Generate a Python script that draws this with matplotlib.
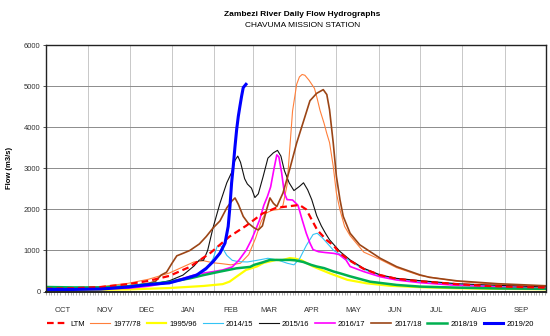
import numpy as np
import matplotlib
matplotlib.use("Agg")
import matplotlib.pyplot as plt

plt.rcParams["font.family"] = ["Liberation Sans", "DejaVu Sans"]

# hydrological year starts 1 Oct; x = day of the water year
months = ["OCT", "NOV", "DEC", "JAN", "FEB", "MAR", "APR", "MAY", "JUN", "JUL", "AUG", "SEP"]
month_days = [31, 30, 31, 31, 28, 31, 30, 31, 30, 31, 31, 30]

# series values: (day, flow m3/s)
ltm_day = [0, 20, 40, 60, 75, 90, 105, 120, 134, 146, 158, 168, 178, 185, 190, 194, 198, 205, 210,
           214, 222, 232, 244, 256, 273, 300, 320, 340, 365]
ltm_q = [70, 80, 110, 180, 260, 380, 600, 940, 1340, 1600, 1900, 2040, 2080, 2110, 2000, 1750, 1500,
         1250, 1120, 950, 750, 550, 400, 310, 250, 180, 140, 115, 95]

y7778_day = [0, 20, 40, 60, 75, 90, 100, 108, 115, 122, 128, 135, 142, 148, 153, 157, 160, 165, 170,
             173, 176, 178, 180, 183, 185, 187, 189, 192, 194, 196, 198, 200, 203, 205, 207, 209.7,
             212, 214.6, 218, 222, 232, 244, 256, 273, 300, 330, 365]
y7778_q = [80, 80, 120, 200, 300, 450, 600, 720, 750, 700, 680, 650, 690, 900, 1300, 1700, 1900,
           1980, 2000, 2100, 2600, 3500, 4400, 5050, 5230, 5290, 5270, 5150, 5050, 4950, 4700, 4420,
           4100, 3850, 3630, 3050, 2400, 1990, 1585, 1360, 960, 780, 580, 390, 250, 170, 120]

y9596_day = [0, 30, 60, 90, 115, 129, 134, 139, 146, 154, 159, 163, 168, 172, 178, 182, 186, 195,
             207, 220, 234, 251, 273, 300, 330, 365]
y9596_q = [40, 40, 50, 85, 135, 180, 240, 360, 525, 610, 700, 730, 770, 760, 815, 800, 770, 610,
           445, 285, 200, 140, 105, 80, 65, 55]

y1415_day = [0, 30, 60, 80, 100, 110, 117, 122, 125, 127, 129, 132, 136, 140, 147, 154, 162, 169,
             176, 181, 185, 190, 195, 198, 202, 206, 210, 215, 222, 232, 244, 256, 273, 300, 330, 365]
y1415_q = [60, 60, 110, 200, 320, 400, 525, 800, 1100, 1130, 1050, 880, 760, 730, 720, 760, 810,
           770, 690, 650, 790, 1120, 1390, 1420, 1300, 1150, 1000, 900, 740, 540, 390, 300, 240,
           170, 130, 100]

y1516_day = [0, 30, 60, 75, 90, 100, 108, 112, 115, 118, 122, 127, 132, 135.5, 138, 140, 142, 145,
             147, 150, 152.5, 155, 158.5, 162, 166, 169, 171.5, 174, 177.5, 181, 185, 188, 191, 194,
             197.6, 201, 204, 207, 214.6, 222, 231.6, 244, 256, 273, 300, 330, 365]
y1516_q = [50, 50, 100, 160, 260, 400, 620, 770, 760, 1000, 1560, 2150, 2650, 2900, 3200, 3300,
           3150, 2750, 2620, 2520, 2290, 2380, 2800, 3250, 3380, 3440, 3300, 2950, 2650, 2460, 2560,
           2650, 2480, 2240, 1850, 1600, 1420, 1260, 975, 770, 570, 405, 320, 265, 190, 150, 110]

y1617_day = [0, 30, 60, 75, 90, 100, 110, 115, 122, 129, 136, 141, 146, 150, 153, 156, 159, 161.7,
             164, 166.5, 168.5, 170, 172, 174, 176, 180, 184, 187, 190, 192.7, 195, 199, 204, 210,
             214, 219, 222, 232, 244, 256, 273, 300, 330, 365]
y1617_q = [60, 60, 80, 130, 220, 320, 420, 450, 485, 525, 600, 770, 1000, 1260, 1500, 1750, 2100,
           2320, 2550, 3000, 3330, 3280, 2900, 2400, 2240, 2230, 2100, 1750, 1420, 1180, 1020, 970,
           950, 930, 900, 770, 610, 485, 360, 280, 215, 150, 110, 80]

y1718_day = [0, 30, 60, 75, 80, 84, 88, 92, 95.5, 100, 105, 112, 117, 122, 127, 132, 135.5, 138,
             140.5, 144, 147.5, 152, 155, 158, 161, 163.5, 166, 168.5, 173, 178, 183, 188, 192.7,
             197.6, 202.4, 205, 207, 209.7, 212, 214.6, 217, 222, 229, 236.5, 244, 256, 273, 280,
             300, 330, 365]
y1718_q = [60, 60, 120, 200, 250, 400, 470, 690, 870, 930, 1000, 1160, 1340, 1550, 1720, 2040, 2200,
           2280, 2120, 1830, 1670, 1550, 1500, 1600, 1990, 2280, 2150, 2070, 2400, 2990, 3620, 4150,
           4650, 4830, 4920, 4800, 4430, 3620, 2810, 2240, 1830, 1420, 1140, 975, 810, 605, 405, 345,
           260, 190, 140]

y1819_day = [0, 20, 40, 60, 75, 90, 105, 115, 127, 139, 149, 152, 158.6, 163.5, 170, 178, 182, 187.8,
             193.5, 197.6, 203, 209.7, 215, 222, 236.5, 256, 273, 300, 330, 365]
y1819_q = [110, 100, 100, 130, 180, 230, 320, 400, 485, 565, 600, 650, 715, 770, 770, 770, 760, 720,
           650, 610, 570, 490, 440, 370, 240, 160, 120, 95, 75, 65]

y1920_day = [0, 20, 40, 60, 75, 90, 100, 110, 117, 122, 127, 130.7, 133, 134.3, 135.5, 136.7, 138,
             139.2, 140.4, 141.6, 142.8, 144, 146]
y1920_q = [50, 50, 60, 110, 170, 210, 300, 400, 565, 730, 935, 1180, 1585, 2075, 2645, 3050, 3540,
           3950, 4270, 4520, 4760, 4970, 5050]

fig = plt.figure(figsize=(5.5, 3.36), dpi=100)
ax = fig.add_axes([0.0836, 0.1324, 0.9091, 0.7327])

month_start = np.concatenate([[0], np.cumsum(month_days)])
for d in month_start[1:-1]:
    ax.axvline(d, color="#c8c8c8", lw=0.7, zorder=0)
for v in range(1000, 6000, 1000):
    ax.axhline(v, color="#8c8c8c", lw=0.7, zorder=0)

ax.plot(y7778_day, y7778_q, color="#ff7f3a", lw=0.8, label="1977/78")
ax.plot(y9596_day, y9596_q, color="#ffff00", lw=1.6, label="1995/96")
ax.plot(y1415_day, y1415_q, color="#33c4f5", lw=0.8, label="2014/15")
ax.plot(y1516_day, y1516_q, color="#111111", lw=0.8, label="2015/16")
ax.plot(y1617_day, y1617_q, color="#ff00ff", lw=1.2, label="2016/17")
ax.plot(y1718_day, y1718_q, color="#9b4516", lw=1.2, label="2017/18")
ax.plot(y1819_day, y1819_q, color="#00b050", lw=1.8, label="2018/19")
ax.plot(ltm_day, ltm_q, color="#ff0000", lw=1.6, ls=(0, (3, 1.8)), label="LTM")
ax.plot(y1920_day, y1920_q, color="#0000ff", lw=2.2, label="2019/20")

ax.set_xlim(0, 365)
ax.set_ylim(0, 6000)
ax.set_yticks(range(0, 6001, 1000))
ax.tick_params(axis="y", labelsize=5.5, length=2, width=0.6, pad=2, colors="#333333")

# month names sit inside each month, minor ticks mark the days
ax.set_xticks(month_start[:-1] + 12)
ax.set_xticklabels(months)
ax.set_xticks(np.arange(0, 366, 2), minor=True)
ax.tick_params(axis="x", which="major", length=0, labelsize=5.5, pad=11, labelcolor="#333333")
ax.tick_params(axis="x", which="minor", length=2, width=0.4, color="#777777")

for s in ax.spines.values():
    s.set_linewidth(1.0)
    s.set_color("#222222")
ax.spines["bottom"].set_linewidth(1.4)

ax.set_ylabel("Flow (m3/s)", fontsize=5.5, fontweight="bold", labelpad=8)

fig.text(0.55, 0.958, "Zambezi River Daily Flow Hydrographs", ha="center", va="center",
         fontsize=6, fontweight="bold")
fig.text(0.55, 0.923, "CHAVUMA MISSION STATION", ha="center", va="center", fontsize=6)

handles, labels = ax.get_legend_handles_labels()
order = ["LTM", "1977/78", "1995/96", "2014/15", "2015/16", "2016/17", "2017/18", "2018/19", "2019/20"]
hmap = dict(zip(labels, handles))
fig.legend([hmap[k] for k in order], order, loc="center", bbox_to_anchor=(0.528, 1 - 324 / 336),
           ncol=9, frameon=False, fontsize=5.5, handlelength=2.6, handletextpad=0.4,
           columnspacing=0.75)

fig.savefig("out.png", dpi=100)
